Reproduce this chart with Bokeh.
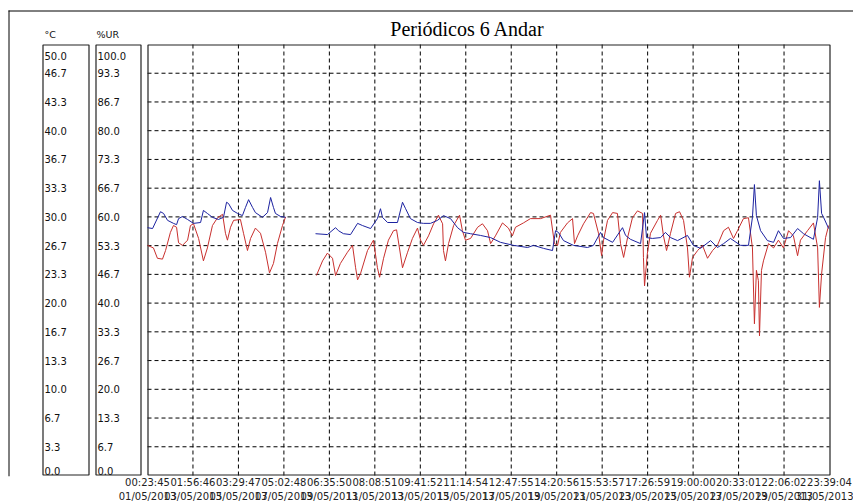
import numpy as np
from bokeh.plotting import figure
from bokeh.models import Range1d, LinearAxis, FixedTicker, CustomJSTickFormatter
from bokeh.core.properties import value
from bokeh.embed import file_html
from bokeh.resources import INLINE

NaN = float("nan")

# ---------------- data ----------------
title_text = "Periódicos 6 Andar"
temp_unit = "°C"
hum_unit = "%UR"

# time axis: days since 01/05 00:23:45, total span 30 d 23:15:19
span_days = 30 + (23 * 3600 + 15 * 60 + 19) / 86400.0
time_labels = ["00:23:45", "01:56:46", "03:29:47", "05:02:48", "06:35:50", "08:08:51",
               "09:41:52", "11:14:54", "12:47:55", "14:20:56", "15:53:57", "17:26:59",
               "19:00:00", "20:33:01", "22:06:02", "23:39:04"]
date_labels = ["01/05/2013", "03/05/2013", "05/05/2013", "07/05/2013", "09/05/2013",
               "11/05/2013", "13/05/2013", "15/05/2013", "17/05/2013", "19/05/2013",
               "21/05/2013", "23/05/2013", "25/05/2013", "27/05/2013", "29/05/2013",
               "31/05/2013"]
temp_ticks = ["50.0", "46.7", "43.3", "40.0", "36.7", "33.3", "30.0", "26.7",
              "23.3", "20.0", "16.7", "13.3", "10.0", "6.7", "3.3", "0.0"]
hum_ticks = ["100.0", "93.3", "86.7", "80.0", "73.3", "66.7", "60.0", "53.3",
             "46.7", "40.0", "33.3", "26.7", "20.0", "13.3", "6.7", "0.0"]

# temperature (red), days since start / degC
temp_days = [0.00, 0.27, 0.45, 0.68, 0.82, 1.04, 1.18, 1.32, 1.41, 1.59, 1.82, 1.95, 2.09,
             2.32, 2.54, 2.72, 2.95, 3.18, 3.41, 3.54, 3.63, 3.77, 3.91, 4.22, 4.36, 4.54,
             4.68, 4.90, 5.13, 5.36, 5.54, 5.72, 5.90, 6.13, 6.27, 6.9,
             7.67, 7.95, 8.17, 8.40, 8.54, 8.76, 9.08, 9.31, 9.45, 9.54, 9.67, 9.99, 10.26,
             10.44, 10.54, 10.72, 10.94, 11.17, 11.31, 11.44, 11.58, 11.81, 12.03, 12.26,
             12.40, 12.53, 12.76, 12.99, 13.21, 13.40, 13.44, 13.53, 13.67, 13.90, 14.17,
             14.30, 14.44, 14.67, 14.99, 15.21, 15.44, 15.58, 15.80, 16.12, 16.39, 16.57,
             16.71, 17.07, 17.39, 17.85, 18.30, 18.48, 18.62, 18.75, 19.07, 19.30, 19.39,
             19.53, 19.80, 20.12, 20.25, 20.48, 20.62, 20.71, 20.89, 21.12, 21.34, 21.48,
             21.62, 21.80, 22.02, 22.25, 22.48, 22.52, 22.57, 22.70, 22.84, 23.16, 23.30,
             23.43, 23.57, 23.75, 23.98, 24.16, 24.34, 24.52, 24.61, 24.75, 24.98, 25.20,
             25.43, 25.66, 25.88, 26.16, 26.38, 26.61, 26.79, 27.06, 27.29, 27.47, 27.56,
             27.65, 27.74, 27.79, 27.88, 27.97, 28.20, 28.43, 28.65, 28.88, 29.11, 29.33,
             29.52, 29.65, 29.97, 30.24, 30.43, 30.51, 30.61, 30.79, 30.93]
temp_vals = [26.7, 26.4, 25.2, 25.1, 26.1, 28.2, 29.0, 28.8, 27.0, 26.7, 27.3, 29.0, 29.2,
             27.5, 24.9, 26.4, 29.0, 29.9, 30.3, 28.1, 27.3, 28.8, 29.6, 29.7, 28.1, 26.1,
             27.5, 28.7, 28.1, 25.9, 23.5, 24.6, 26.9, 29.0, 30.0, NaN,
             23.2, 24.9, 25.8, 25.2, 23.2, 24.6, 25.9, 26.7, 24.1, 22.7, 23.4, 26.1, 27.3,
             24.1, 23.0, 25.2, 27.3, 28.4, 28.5, 26.4, 24.1, 25.9, 27.5, 28.7,
             27.3, 26.7, 27.8, 29.2, 30.2, 29.2, 26.1, 24.9, 26.9, 29.0, 30.2,
             28.4, 27.3, 27.5, 28.8, 29.2, 28.4, 26.9, 27.8, 29.3, 28.7, 27.8,
             28.8, 29.3, 29.8, 29.8, 30.2, 26.9, 26.7, 28.2, 29.3, 29.8, 26.9,
             27.8, 29.2, 30.5, 30.4, 28.1, 25.5, 27.3, 29.6, 30.5, 30.4, 26.9,
             25.3, 27.6, 29.9, 30.7, 30.4, 25.3, 22.0, 25.8, 28.1, 29.6, 30.2,
             27.8, 26.1, 28.1, 30.4, 30.6, 29.6, 26.4, 23.0, 25.3, 26.1, 26.7,
             25.2, 26.1, 26.7, 28.4, 28.8, 27.5, 28.4, 29.8, 29.9, 26.4, 17.6,
             23.8, 22.6, 16.2, 23.8, 24.9, 26.9, 26.4, 27.3, 26.4, 28.4, 27.8,
             25.5, 27.3, 28.4, 29.3, 26.4, 19.5, 23.4, 27.6, 29.0]

# relative humidity (blue), days since start / %UR
hum_days = [0.00, 0.23, 0.59, 0.73, 0.91, 1.18, 1.32, 1.41, 1.59, 1.82, 2.09, 2.41, 2.54,
            2.72, 2.95, 3.22, 3.45, 3.59, 3.68, 3.86, 4.09, 4.31, 4.45, 4.59, 4.77, 4.90,
            5.22, 5.45, 5.59, 5.72, 5.81, 6.04, 6.27, 6.9,
            7.63, 8.17, 8.54, 8.67, 8.90, 9.22, 9.54, 9.76, 10.13, 10.44, 10.58, 10.67,
            10.90, 11.35, 11.58, 11.72, 11.94, 12.26, 12.53, 12.85, 13.17, 13.44, 13.76,
            14.08, 14.35, 14.67, 15.12, 15.58, 16.03, 16.62, 17.26, 17.53, 17.98, 18.39,
            18.53, 18.66, 18.89, 19.34, 19.98, 20.25, 20.57, 20.71, 21.12, 21.57, 21.71,
            21.93, 22.39, 22.57, 22.66, 22.93, 23.30, 23.52, 23.75, 24.07, 24.52, 24.79,
            25.11, 25.57, 25.88, 26.16, 26.47, 26.93, 27.29, 27.47, 27.56, 27.65, 27.84,
            28.15, 28.43, 28.65, 28.88, 29.20, 29.52, 29.79, 30.24, 30.43, 30.51, 30.61,
            30.70, 30.93]
hum_vals = [57.5, 57.3, 61.2, 60.8, 59.2, 58.5, 58.2, 59.6, 60.1, 59.4, 58.5, 58.7, 61.5,
            60.8, 59.9, 59.4, 59.9, 63.4, 63.1, 61.5, 60.8, 60.3, 62.2, 64.0, 62.2, 61.0,
            59.9, 61.0, 64.5, 62.2, 60.8, 60.1, 59.9, NaN,
            56.1, 55.9, 57.5, 56.8, 56.1, 55.9, 58.5, 58.0, 57.3, 59.6, 61.9, 59.9,
            58.7, 58.7, 63.4, 61.9, 59.6, 58.7, 58.5, 58.5, 59.2, 60.3, 59.6,
            57.5, 56.4, 56.1, 55.7, 55.2, 54.1, 53.4, 52.9, 53.4, 52.7, 52.2,
            56.8, 56.4, 54.5, 53.4, 52.9, 53.4, 56.4, 55.2, 54.1, 57.5, 55.7,
            54.8, 53.8, 61.0, 55.2, 55.0, 55.2, 56.4, 55.2, 54.5, 55.7, 53.4,
            52.7, 54.5, 52.9, 53.8, 55.0, 53.4, 53.4, 59.9, 67.5, 60.3, 56.8,
            54.5, 54.1, 56.8, 55.0, 55.2, 57.3, 56.1, 54.8, 59.9, 68.4, 60.8,
            59.9, 57.3]

# ---------------- layout (page pixels) ----------------
W, H = 853, 504
BB = 28
X0, X1 = 0, W
Y0, Y1 = 0, H - BB
PX_L, PX_R = 147, 829
PX_T, PX_B = 44, 475

ppd = (PX_R - PX_L) / span_days
x_rng = Range1d(-(PX_L - X0) / ppd, span_days + (X1 - PX_R) / ppd)
ppu = (PX_B - PX_T) / 50.0
y_rng = Range1d(-(Y1 - PX_B) / ppu, 50 + (PX_T - Y0) / ppu)
ur_rng = Range1d(2 * y_rng.start, 2 * y_rng.end)

p = figure(width=W, height=H, x_range=x_rng, y_range=y_rng, output_backend="svg",
           toolbar_location=None, x_axis_location=None, y_axis_location=None,
           min_border_left=0, min_border_right=0, min_border_top=0, min_border_bottom=BB)
p.outline_line_color = None
p.background_fill_color = "white"
p.border_fill_color = "white"
p.extra_x_ranges = {"px": Range1d(X0, X1)}
p.extra_y_ranges = {"px": Range1d(Y1, Y0), "ur": ur_rng}
p.grid.visible = False

step = span_days / 15
tick_days = [k * step for k in range(16)]
ylev = [50 - k * 50 / 15 for k in range(16)]
hlev = [2 * v for v in ylev]

# outer frame lines
p.segment(x0=[8, 8.5], y0=[10.5, 10], x1=[X1, 8.5], y1=[10.5, Y1],
          x_range_name="px", y_range_name="px", line_color="black", line_width=1)

# dashed grid
p.segment(x0=tick_days[1:-1], y0=0, x1=tick_days[1:-1], y1=50,
          line_color="black", line_dash="4 3", line_width=1)
p.segment(x0=0, y0=ylev[1:-1], x1=span_days, y1=ylev[1:-1],
          line_color="black", line_dash="4 3", line_width=1)

# boxes
p.quad(left=[42.5, 95.5, 147.5], right=[88.5, 140.5, 829.5], top=[44.5] * 3,
       bottom=[474.5] * 3, x_range_name="px", y_range_name="px",
       fill_color=None, line_color="#222222", line_width=1.2)

# series
p.line(np.array(temp_days), np.array(temp_vals), line_color="#c8302e", line_width=1)
p.line(np.array(hum_days), np.array(hum_vals), line_color="#1c22a0", line_width=1,
       y_range_name="ur")

# scale labels inside the boxes
offs = [11] + [0] * 14 + [-5]
p.text(x=44, y=ylev, text=temp_ticks, x_range_name="px", y_offset=offs,
       text_align="left", text_baseline="middle", text_color="#111111",
       text_font=value("DejaVu Sans"), text_font_size="10px")
p.text(x=97, y=hlev, text=hum_ticks, x_range_name="px", y_range_name="ur", y_offset=offs,
       text_align="left", text_baseline="middle", text_color="#111111",
       text_font=value("DejaVu Sans"), text_font_size="10px")
p.text(x=[44, 96], y=[34, 34], text=[temp_unit, hum_unit], x_range_name="px",
       y_range_name="px", text_align="left", text_baseline="middle", text_color="#111111",
       text_font=value("DejaVu Sans"), text_font_size="9.5px")

# title
p.text(x=[467], y=[28], text=[title_text], x_range_name="px", y_range_name="px",
       text_align="center", text_baseline="alphabetic", text_color="black",
       text_font=value("Liberation Serif"), text_font_size="20px")

# time / date axes
for labels in (time_labels, date_labels):
    ax = LinearAxis(ticker=FixedTicker(ticks=tick_days),
                    formatter=CustomJSTickFormatter(args=dict(labels=labels, step=step),
                                                    code="return labels[Math.round(tick/step)];"))
    ax.axis_line_color = None
    ax.major_tick_line_color = None
    ax.minor_tick_line_color = None
    ax.major_tick_out = 0
    ax.major_tick_in = 0
    ax.major_label_standoff = 0
    ax.major_label_text_font = "DejaVu Sans"
    ax.major_label_text_font_size = "10px"
    ax.major_label_text_color = "#222222"
    p.add_layout(ax, "below")

open("out.html", "w").write(file_html(p, INLINE))
